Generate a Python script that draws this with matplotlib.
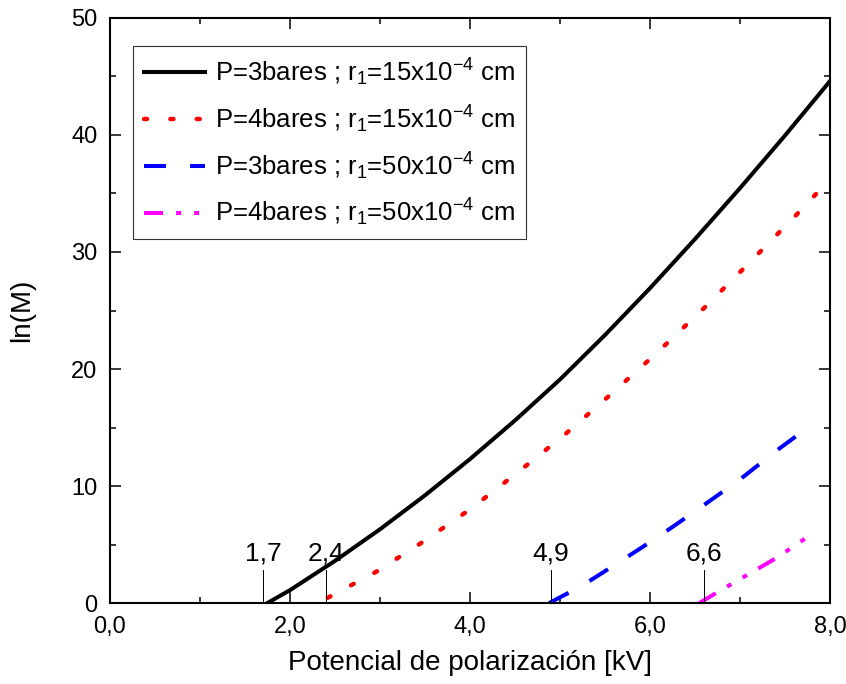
import numpy as np
import matplotlib
matplotlib.use("Agg")
import matplotlib.pyplot as plt

plt.rcParams['font.family'] = ['Liberation Sans', 'DejaVu Sans']
plt.rcParams['mathtext.fontset'] = 'custom'
plt.rcParams['mathtext.rm'] = 'Liberation Sans'
plt.rcParams['mathtext.it'] = 'Liberation Sans:italic'
plt.rcParams['lines.scale_dashes'] = False

# P=3bares ; r1=15e-4 cm
x_p3_r15 = [1.75, 2.0, 2.5, 3.0, 3.5, 4.0, 4.5, 5.0, 5.5, 6.0, 6.5, 7.0, 7.5, 8.0]
y_p3_r15 = [0.0, 1.1, 3.6, 6.3, 9.2, 12.3, 15.6, 19.1, 22.9, 26.9, 31.1, 35.45, 39.95, 44.6]
# P=4bares ; r1=15e-4 cm
x_p4_r15 = [2.42, 2.96, 3.48, 4.0, 4.52, 5.04, 5.56, 6.08, 6.6, 7.12, 7.63, 7.9]
y_p4_r15 = [0.45, 2.68, 5.24, 8.0, 11.1, 14.3, 17.8, 21.4, 25.2, 29.2, 33.2, 35.4]
# P=3bares ; r1=50e-4 cm
x_p3_r50 = [4.88, 5.24, 5.68, 6.11, 6.55, 6.99, 7.42, 7.65]
y_p3_r50 = [0.0, 1.45, 3.6, 5.75, 8.1, 10.5, 13.1, 14.4]
# P=4bares ; r1=50e-4 cm
x_p4_r50 = [6.55, 6.76, 7.08, 7.41, 7.78]
y_p4_r50 = [0.0, 0.97, 2.4, 3.87, 5.8]

umbral_x = [1.7, 2.4, 4.9, 6.6]
umbral_txt = ["1,7", "2,4", "4,9", "6,6"]

xticks = [0, 2, 4, 6, 8]
xtick_labels = ["0,0", "2,0", "4,0", "6,0", "8,0"]
yticks = [0, 10, 20, 30, 40, 50]

fig = plt.figure(figsize=(8.46, 6.84), dpi=100)
ax = fig.add_axes([0.130, 0.1184, 0.851, 0.8553])

ax.plot(x_p3_r15, y_p3_r15, color='black', lw=2.9,
        label=r'P=3bares ; r$_1$=15x10$^{-4}$ cm')
ax.plot(x_p4_r15, y_p4_r15, color='red', lw=3.2, dashes=(2.2, 16.8),
        dash_capstyle='round', label=r'P=4bares ; r$_1$=15x10$^{-4}$ cm')
ax.plot(x_p3_r50, y_p3_r50, color='blue', lw=2.9, dashes=(15.8, 17.3),
        label=r'P=3bares ; r$_1$=50x10$^{-4}$ cm')
ax.plot(x_p4_r50, y_p4_r50, color='magenta', lw=2.9,
        dashes=(13.7, 9.4, 3.6, 9.4, 3.6, 9.4),
        label=r'P=4bares ; r$_1$=50x10$^{-4}$ cm')

# umbrales
for v, t in zip(umbral_x, umbral_txt):
    ax.plot([v, v], [0, 2.8], color='black', lw=0.7)
    ax.text(v, 3.2, t, ha='center', va='bottom', fontsize=19)

ax.set_xlim(0, 8)
ax.set_ylim(0, 50)
ax.set_xticks(xticks)
ax.set_xticklabels(xtick_labels)
ax.set_xticks([1, 3, 5, 7], minor=True)
ax.set_yticks(yticks)
ax.set_yticks([5, 15, 25, 35, 45], minor=True)
ax.tick_params(which='both', direction='in', top=True, right=True,
               labelsize=17, width=1.1)
ax.tick_params(which='major', length=8, pad=9)
ax.tick_params(which='minor', length=4.5)
for s in ax.spines.values():
    s.set_linewidth(1.5)

ax.set_xlabel('Potencial de polarización [kV]', fontsize=20, labelpad=9)
ax.set_ylabel('ln(M)', fontsize=20, labelpad=26)

leg = ax.legend(loc='upper left', bbox_to_anchor=(0.032, 0.9526),
                borderaxespad=0, fontsize=18.5, handlelength=2.4,
                handletextpad=0.36, borderpad=0.42, labelspacing=0.6,
                fancybox=False, framealpha=1)
leg.get_frame().set_edgecolor('#333333')
leg.get_frame().set_linewidth(0.8)

fig.savefig("out.png", dpi=100)
